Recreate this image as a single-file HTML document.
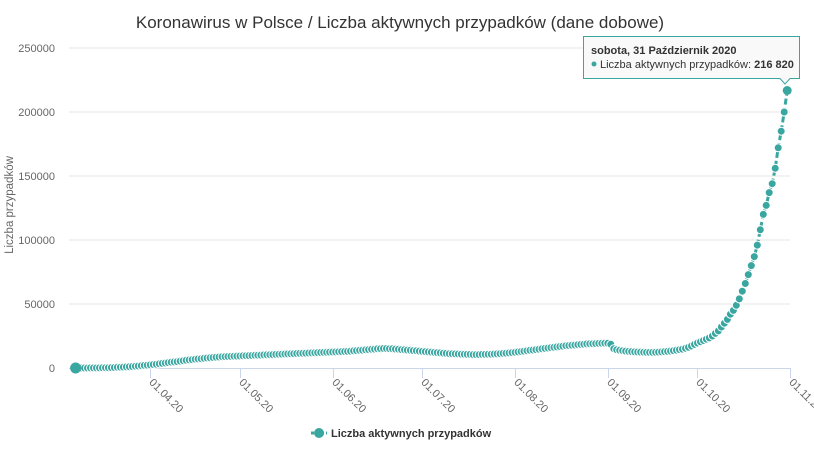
<!DOCTYPE html>
<html><head><meta charset="utf-8">
<style>
body{margin:0;background:#fff;font-family:"Liberation Sans",sans-serif;}
svg{display:block}
</style></head>
<body>
<svg id="chart" width="814" height="454" xmlns="http://www.w3.org/2000/svg">
<rect width="814" height="454" fill="#fff"/>
<text x="400" y="28" text-anchor="middle" font-size="17" fill="#333">Koronawirus w Polsce / Liczba aktywnych przypadków (dane dobowe)</text>
<text transform="translate(13,205) rotate(-90)" text-anchor="middle" font-size="11.5" fill="#666">Liczba przypadków</text>
<g id="grid"></g>
<g id="xaxis"></g>
<g id="series"></g>
<g>
<line x1="311" y1="433" x2="327" y2="433" stroke="#3aa6a0" stroke-width="3" stroke-dasharray="3,2"/>
<circle cx="319" cy="433" r="5" fill="#3aa6a0"/>
<text x="331" y="437" font-size="11" font-weight="bold" fill="#333">Liczba aktywnych przypadków</text>
</g>
<g>
<path d="M583.5,36.5 H799.5 V78.5 H790 L785,84 L780,78.5 H583.5 Z" fill="#f9f9f9" fill-opacity="0.96" stroke="#3aa6a0" stroke-width="1"/>
<text x="591" y="54" font-size="11" font-weight="bold" fill="#333">sobota, 31 Październik 2020</text>
<circle cx="594" cy="64" r="2.5" fill="#3aa6a0"/>
<text x="600" y="68" font-size="11" fill="#333">Liczba aktywnych przypadków: <tspan font-weight="bold">216 820</tspan></text>
</g>
</svg>
<script>
const startDate = [2020, 3, 7];
const values = [
5,10,15,20,30,40,60,90,110,140,200,250,330,400,530,620,730,880,1000,1180,1380,1600,1800,2000,2200,
2400,2700,3000,3300,3600,3900,4200,4500,4800,5000,5400,5700,6000,6300,6600,6900,7100,7300,7600,7800,8000,8200,8400,8600,8800,8900,9000,9100,9200,9300,
9400,9500,9600,9700,9800,9900,10000,10100,10200,10300,10400,10500,10600,10700,10800,10900,11000,11100,11200,11300,11400,11500,11600,11700,11800,11900,12000,12100,12200,12300,12400,
12500,12600,12700,12800,12900,13000,13200,13400,13600,13800,14000,14200,14400,14600,14800,15000,15100,15200,15200,15100,15000,14800,14600,14400,14200,14000,13800,13600,13400,13200,
13000,12800,12600,12400,12200,12000,11800,11600,11400,11200,11100,11000,10900,10800,10700,10600,10600,10500,10500,10500,10600,10600,10700,10800,10900,11000,11200,11400,11600,11800,12000,
12300,12600,12900,13200,13500,13800,14100,14400,14700,15000,15300,15600,15900,16200,16500,16800,17100,17400,17600,17800,18000,18200,18400,18600,18800,18900,19000,19100,19200,19300,19400,
19300,18500,15000,14200,13800,13500,13200,13000,12800,12600,12500,12400,12300,12200,12200,12200,12300,12400,12600,12800,13000,13300,13600,14000,14400,14800,15400,16200,17200,18400,
19500,20500,21500,22500,23500,25000,27000,29000,32000,35000,38000,42000,45000,49000,54000,60000,66000,73000,80000,87000,96000,108000,120000,127000,137000,144000,156000,172000,185000,200000,216820
];
const yTicks = [0,50000,100000,150000,200000,250000];
const xTickLabels = ["01.04.20","01.05.20","01.06.20","01.07.20","01.08.20","01.09.20","01.10.20","01.11.20"];

const NS="http://www.w3.org/2000/svg";
const day0 = Date.UTC(startDate[0],startDate[1]-1,startDate[2]);
const refDay = Date.UTC(2020,3,1);
const pxPerDay = 2.99, refX = 150.3;
function xDay(i){ return refX + ((day0 - refDay)/86400000 + i)*pxPerDay; }
function xDate(ms){ return refX + ((ms - refDay)/86400000)*pxPerDay; }
function yVal(v){ return 368 - v*(320/250000); }
function mk(tag, attrs, parent){ const e=document.createElementNS(NS,tag); for(const k in attrs) e.setAttribute(k, attrs[k]); parent.appendChild(e); return e; }

const grid=document.getElementById('grid');
yTicks.forEach(t=>{
  const y=yVal(t);
  if(t>0){
    const l=mk('line',{x1:69,x2:790,y1:y,y2:y,stroke:'#e6e6e6','stroke-width':1},grid);
    
    
  }
  const tx=mk('text',{x:55,y:y+4,'text-anchor':'end','font-size':11,fill:'#666'},grid);
  tx.textContent=String(t);
  
  
});

const xa=document.getElementById('xaxis');
const axl=mk('line',{x1:69,x2:790,y1:368.5,y2:368.5,stroke:'#ccd6eb','stroke-width':1},xa);


xTickLabels.forEach(lab=>{
  const p=lab.split('.');
  const x=Math.round(xDate(Date.UTC(2000+ +p[2], +p[1]-1, +p[0])))+0.5;
  const tk=mk('line',{x1:x,x2:x,y1:368,y2:378,stroke:'#ccd6eb','stroke-width':1},xa);
  
  
  const t=mk('text',{x:x-2,y:383,'font-size':11,fill:'#666',transform:`rotate(45 ${x-2} 383)`},xa);
  t.textContent=lab;
  
  
});

const s=document.getElementById('series');
let d='';
values.forEach((v,i)=>{ d+=(i?'L':'M')+xDay(i).toFixed(1)+','+yVal(v).toFixed(1); });
const path=mk('path',{d:d,fill:'none',stroke:'#3aa6a0','stroke-width':3,'stroke-dasharray':'6,3'},s);


values.forEach((v,i)=>{
  const c=mk('circle',{cx:xDay(i).toFixed(1),cy:yVal(v).toFixed(1),r:4,fill:'#3aa6a0',stroke:'#fff','stroke-width':1},s);
  
  
});
const f=mk('circle',{cx:xDay(0).toFixed(1),cy:yVal(values[0]).toFixed(1),r:5.5,fill:'#3aa6a0'},s);


const last=values.length-1;
const h=mk('circle',{cx:xDay(last).toFixed(1),cy:yVal(values[last]).toFixed(1),r:4.5,fill:'#3aa6a0'},s);


</script>
</body></html>
